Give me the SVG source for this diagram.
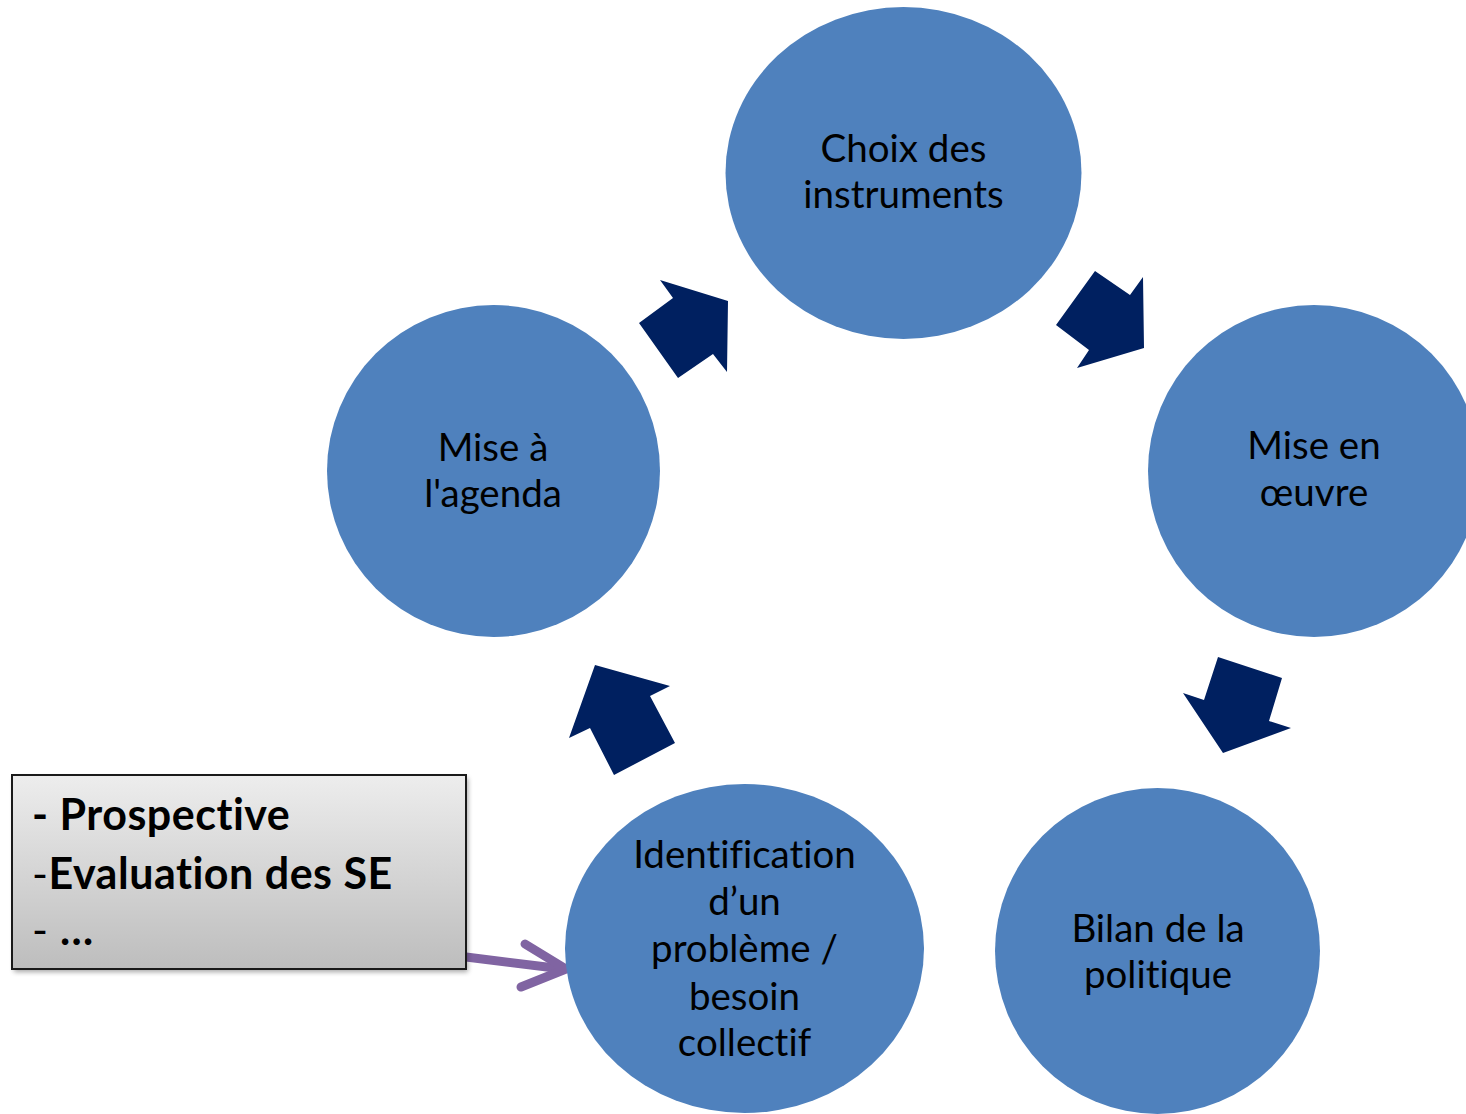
<svg xmlns="http://www.w3.org/2000/svg" width="1466" height="1114" viewBox="0 0 1466 1114">
<style>
.node{fill:#4F81BD}
.lbl{font-family:Lato,"Liberation Sans",sans-serif;font-size:38.5px;fill:#000;text-anchor:middle;font-variant-ligatures:none;font-feature-settings:"liga" 0,"clig" 0,"dlig" 0}
.box{font-family:Lato,"Liberation Sans",sans-serif;font-size:43px;letter-spacing:0.5px;fill:#000;font-variant-ligatures:none;font-feature-settings:"liga" 0,"clig" 0,"dlig" 0}
.arr{fill:#002060}
.conn{fill:none;stroke:#8064A2;stroke-width:9;stroke-linecap:round;stroke-linejoin:round}
</style>
<defs>
<linearGradient id="g" x1="0" y1="0" x2="0" y2="1">
<stop offset="0" stop-color="#EDEDED"/>
<stop offset="1" stop-color="#BDBDBD"/>
</linearGradient>
<filter id="sh" x="-10%" y="-10%" width="120%" height="130%">
<feGaussianBlur stdDeviation="2.5"/>
</filter>
</defs>
<rect width="1466" height="1114" fill="#fff"/>
<g id="connectors">
<polygon class="arr" points="639,323 678,378 713,354 727,372 728,301 660,280 673,298"/>
<polygon class="arr" points="1095,271 1130,295 1143,277 1144,348 1077,368 1089,350 1056,325"/>
<polygon class="arr" points="1218,657 1282,678 1269,721 1291,728 1223,753 1183,693 1204,700"/>
<polygon class="arr" points="595,665 670,686 650,696 675,743 614,775 590,728 569,738"/>
<line class="conn" x1="466" y1="957" x2="563" y2="969"/>
<polyline class="conn" points="525,944 566,969 521,987"/>
</g>
<g id="n-choix">
<ellipse class="node" cx="903.5" cy="173" rx="178" ry="166"/>
<text class="lbl" x="903.5" y="162">Choix des</text>
<text class="lbl" x="903.5" y="208">instruments</text>
</g>
<g id="n-oeuvre">
<ellipse class="node" cx="1314" cy="471" rx="166" ry="166"/>
<text class="lbl" x="1314" y="459">Mise en</text>
<text class="lbl" x="1314" y="506">œuvre</text>
</g>
<g id="n-bilan">
<ellipse class="node" cx="1157.5" cy="951" rx="162.5" ry="163"/>
<text class="lbl" x="1158" y="942">Bilan de la</text>
<text class="lbl" x="1158" y="988">politique</text>
</g>
<g id="n-identification">
<ellipse class="node" cx="744.5" cy="948.5" rx="179.5" ry="164.5"/>
<text class="lbl" x="744.5" y="868">Identification</text>
<text class="lbl" x="744.5" y="915">d’un</text>
<text class="lbl" x="744.5" y="962">problème /</text>
<text class="lbl" x="744.5" y="1010">besoin</text>
<text class="lbl" x="744.5" y="1056">collectif</text>
</g>
<g id="n-agenda">
<ellipse class="node" cx="493.5" cy="471" rx="166.5" ry="166"/>
<text class="lbl" x="493" y="461">Mise à</text>
<text class="lbl" x="493" y="507">l'agenda</text>
</g>
<g id="n-box">
<rect x="14" y="778" width="454" height="194" fill="#000" opacity="0.35" filter="url(#sh)"/>
<rect x="12" y="775" width="454" height="194" fill="url(#g)" stroke="#1a1a1a" stroke-width="2"/>
<text class="box" x="32" y="830"><tspan font-weight="bold">- Prospective</tspan></text>
<text class="box" x="32" y="889">-<tspan font-weight="bold">Evaluation des SE</tspan></text>
<text class="box" x="32" y="945">- <tspan font-weight="bold">…</tspan></text>
</g>
</svg>
